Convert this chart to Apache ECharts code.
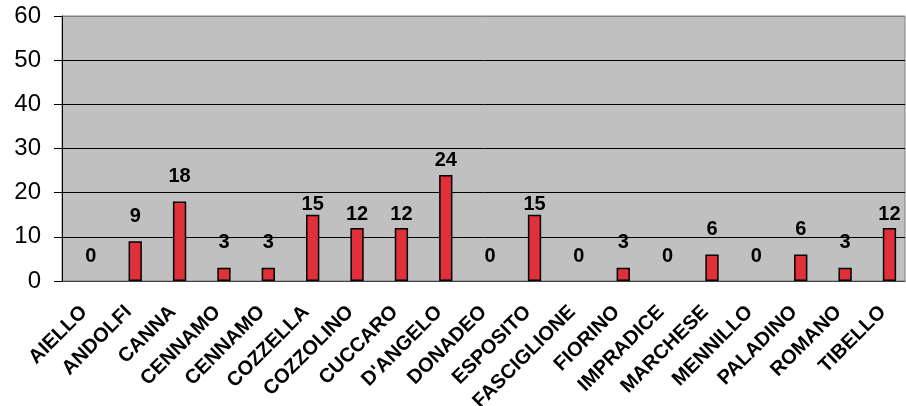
<!DOCTYPE html>
<html>
<head>
<meta charset="utf-8">
<script src="https://cdn.jsdelivr.net/npm/echarts@6/dist/echarts.min.js"></script>
<style>html,body{margin:0;padding:0;background:#fff}#c{width:906px;height:406px}</style>
</head>
<body>
<div id="c"></div>
<script>
const categories = ['AIELLO','ANDOLFI','CANNA','CENNAMO','CENNAMO','COZZELLA','COZZOLINO','CUCCARO',"D'ANGELO",'DONADEO','ESPOSITO','FASCIGLIONE','FIORINO','IMPRADICE','MARCHESE','MENNILLO','PALADINO','ROMANO','TIBELLO'];
const values = [0,9,18,3,3,15,12,12,24,0,15,0,3,0,6,0,6,3,12];
const spacerValues = [null,null,null,null,null,null,null,null,null,null,null,null,null,null,null,null,null,null,null];
const yTicks = [0,10,20,30,40,50,60];

// label placement as in the original (labels nudged near gridlines)
const labelDistanceByValue = {12: 4, 15: 0, 24: 5};
const barData = values.map(v => ({
  value: v,
  itemStyle: {borderWidth: v === 0 ? 0 : 1.5},
  label: {distance: (v in labelDistanceByValue) ? labelDistanceByValue[v] : 15}
}));

const chart = echarts.init(document.getElementById('c'));
chart.setOption({
  animation: false,
  grid: {left: 62, right: 1, top: 16, bottom: 125, outerBoundsMode: 'none', containLabel: false, show: true, backgroundColor: '#c0c0c0', borderColor: '#808080', borderWidth: 1},
  xAxis: {
    type: 'category', data: categories,
    axisLine: {lineStyle: {color: '#404040', width: 1}},
    axisTick: {interval: 0, length: 5, lineStyle: {color: '#404040'}},
    axisLabel: {interval: 0, rotate: 45, margin: 28, color: '#000', fontFamily: 'Liberation Sans', fontWeight: 'bold', fontSize: 20}
  },
  yAxis: {
    type: 'value', min: yTicks[0], max: yTicks[yTicks.length-1], interval: 10,
    axisLine: {show: true, lineStyle: {color: '#000', width: 1}},
    axisTick: {show: true, length: 8, lineStyle: {color: '#000'}},
    axisLabel: {margin: 21, color: '#000', fontFamily: 'Liberation Sans', fontSize: 24},
    splitLine: {show: true, lineStyle: {color: ['#000','#000','#000','#000','#000','#000','#808080'], width: 1}}
  },
  series: [
    {type: 'bar', name: 'spacer', data: spacerValues, barGap: '0%', barCategoryGap: '40%'},
    {type: 'bar', name: 'valori', data: barData, barGap: '0%', barCategoryGap: '40%',
     itemStyle: {color: '#e0303a', borderColor: '#000', borderWidth: 1.5},
     label: {show: true, position: 'top', distance: 15, color: '#000', fontFamily: 'Liberation Sans', fontWeight: 'bold', fontSize: 20}}
  ]
});
</script>
</body>
</html>
